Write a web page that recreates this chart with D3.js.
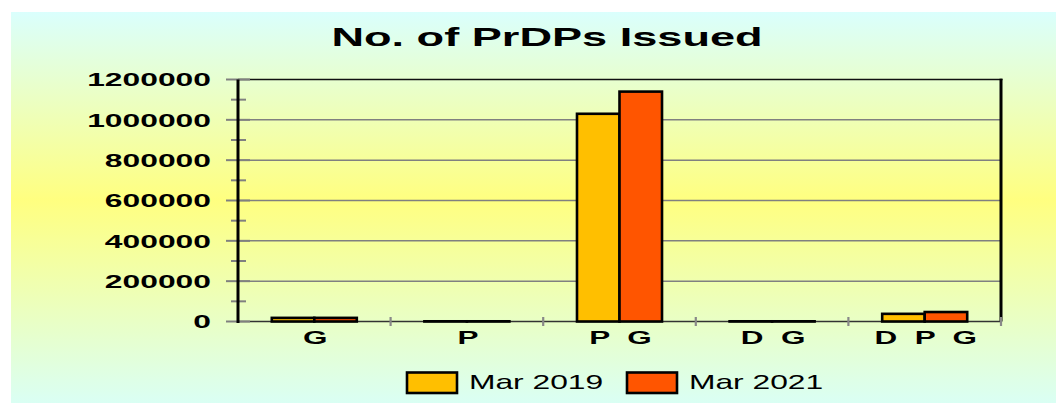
<!DOCTYPE html>
<html>
<head>
<meta charset="utf-8">
<script src="https://cdn.jsdelivr.net/npm/d3@7"></script>
<style>
  html, body { margin: 0; padding: 0; background: #fff; }
  svg { display: block; }
  text { font-family: "Liberation Sans", Arial, sans-serif; }
</style>
</head>
<body>
<svg id="chart" width="1056" height="403"></svg>
<script>
// values
const categories = ['G', 'P', 'P  G', 'D  G', 'D  P  G'];
const seriesNames = ['Mar 2019', 'Mar 2021'];
const mar2019 = [18000, 1000, 1030000, 1000, 38000];
const mar2021 = [18000, 1000, 1140000, 1000, 47000];
const yTicks = [0, 200000, 400000, 600000, 800000, 1000000, 1200000];
const colors = ['#ffbf00', '#ff5500'];

const W = 1056, H = 403;
const plot = { left: 238, right: 1001, top: 79.5, bottom: 321.5 };

const svg = d3.select('#chart');
const defs = svg.append('defs');

const grad = defs.append('linearGradient')
  .attr('id', 'bg')
  .attr('x1', 0).attr('y1', 0).attr('x2', 0).attr('y2', 1);
grad.append('stop').attr('offset', '0%').attr('stop-color', '#dafffd');
grad.append('stop').attr('offset', '48%').attr('stop-color', '#ffff80');
grad.append('stop').attr('offset', '100%').attr('stop-color', '#dafff4');

svg.append('rect')
  .attr('x', 11).attr('y', 12)
  .attr('width', W - 11).attr('height', H - 12)
  .attr('fill', 'url(#bg)');

// the source picture is stretched sideways, so every text is too
const stretchText = (sel, x, y, str, opts) => {
  const g = sel.append('g')
    .attr('transform', `translate(${x},${y}) scale(${opts.sx},1)`);
  g.append('text')
    .attr('text-anchor', opts.anchor || 'middle')
    .attr('font-size', opts.size)
    .attr('font-weight', opts.weight || 'bold')
    .attr('fill', '#000')
    .style('white-space', 'pre')
    .text(str);
  return g;
};

const x = d3.scaleBand()
  .domain(categories)
  .range([plot.left, plot.right])
  .padding(0);

const xInner = d3.scaleBand()
  .domain(seriesNames)
  .range([0, x.bandwidth()])
  .paddingInner(0)
  .paddingOuter(0.795);

const y = d3.scaleLinear()
  .domain([0, 1200000])
  .range([plot.bottom, plot.top]);

// grid lines
svg.append('g')
  .selectAll('line')
  .data(yTicks.filter(d => d > 0 && d < 1200000))
  .join('line')
  .attr('x1', plot.left).attr('x2', plot.right)
  .attr('y1', d => y(d)).attr('y2', d => y(d))
  .attr('stroke', '#808080')
  .attr('stroke-width', 1.5);

// top and right frame
svg.append('line')
  .attr('x1', plot.left).attr('x2', plot.right + 1.5)
  .attr('y1', y(1200000)).attr('y2', y(1200000))
  .attr('stroke', '#111').attr('stroke-width', 1.6);
svg.append('line')
  .attr('x1', plot.right).attr('x2', plot.right)
  .attr('y1', plot.top - 0.8).attr('y2', plot.bottom)
  .attr('stroke', '#000').attr('stroke-width', 3);

// zero line
svg.append('line')
  .attr('x1', plot.left).attr('x2', plot.right)
  .attr('y1', y(0)).attr('y2', y(0))
  .attr('stroke', '#333').attr('stroke-width', 1.5);

// category boundary ticks
svg.append('g')
  .selectAll('line')
  .data(categories.slice(1).map(c => x(c)).concat([plot.right]))
  .join('line')
  .attr('x1', d => d).attr('x2', d => d)
  .attr('y1', y(0) - 4.5).attr('y2', y(0) + 4.5)
  .attr('stroke', '#888').attr('stroke-width', 2.2);

// y axis: minor and major ticks
const minor = d3.range(100000, 1200000, 200000);
svg.append('g')
  .selectAll('line')
  .data(minor)
  .join('line')
  .attr('x1', plot.left - 7).attr('x2', plot.left + 8)
  .attr('y1', d => y(d)).attr('y2', d => y(d))
  .attr('stroke', '#808080').attr('stroke-width', 2);
svg.append('g')
  .selectAll('line')
  .data(yTicks)
  .join('line')
  .attr('x1', plot.left - 12).attr('x2', plot.left + 12)
  .attr('y1', d => y(d)).attr('y2', d => y(d))
  .attr('stroke', '#808080').attr('stroke-width', 2);

svg.append('line')
  .attr('x1', plot.left).attr('x2', plot.left)
  .attr('y1', plot.top).attr('y2', plot.bottom + 1.5)
  .attr('stroke', '#000').attr('stroke-width', 3);

// bars
const rows = categories.map((c, i) => ({
  cat: c,
  values: [
    { name: seriesNames[0], value: mar2019[i], color: colors[0] },
    { name: seriesNames[1], value: mar2021[i], color: colors[1] }
  ]
}));

svg.append('g')
  .selectAll('g')
  .data(rows)
  .join('g')
  .attr('transform', d => `translate(${x(d.cat)},0)`)
  .selectAll('rect')
  .data(d => d.values)
  .join('rect')
  .attr('x', d => xInner(d.name))
  .attr('y', d => y(d.value))
  .attr('width', xInner.bandwidth())
  .attr('height', d => y(0) - y(d.value))
  .attr('fill', d => d.color)
  .attr('stroke', '#000')
  .attr('stroke-width', 2.6);

// y labels
yTicks.forEach(t => {
  stretchText(svg, 211, y(t) + 6.7, String(t), { size: 18.5, sx: 1.72, anchor: 'end' });
});

// category labels
categories.forEach(c => {
  stretchText(svg, x(c) + x.bandwidth() / 2 + 1, 344, c, { size: 18.5, sx: 1.7 });
});

// title
stretchText(svg, 547, 46, 'No. of PrDPs Issued', { size: 25.5, sx: 1.77 });

// legend
const legendX = [407, 627];
seriesNames.forEach((name, i) => {
  svg.append('rect')
    .attr('x', legendX[i]).attr('y', 372.5)
    .attr('width', 50).attr('height', 20.5)
    .attr('fill', colors[i])
    .attr('stroke', '#000').attr('stroke-width', 2.6);
  stretchText(svg, legendX[i] + 62, 388.5, name, { size: 20.5, sx: 1.55, anchor: 'start', weight: 'normal' });
});
</script>
</body>
</html>
